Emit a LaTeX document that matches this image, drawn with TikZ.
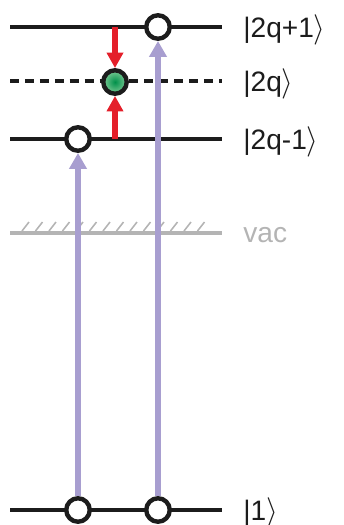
\documentclass[tikz,border=0pt]{standalone}
\usepackage{fontspec}
\setmainfont{Liberation Sans}
\usetikzlibrary{arrows.meta,positioning,calc}
\definecolor{ink}{HTML}{1C1C1C}
\definecolor{pump}{HTML}{A89ED0}
\definecolor{push}{HTML}{E41F2A}
\definecolor{vacgray}{HTML}{B4B4B4}
\definecolor{ballin}{HTML}{00904A}
\definecolor{ballout}{HTML}{7CCB95}
\newcommand{\LineL}{10}
\newcommand{\LineR}{222}
\newcommand{\LabelX}{243}
\newcommand{\ColA}{78}
\newcommand{\ColB}{158}
\newcommand{\ColC}{115}

\begin{document}
\begin{tikzpicture}[
    x=0.02cm, y=-0.02cm,
    font=\fontsize{16}{19}\selectfont, ink,
    level/.style={draw=ink, line width=2.5pt},
    midlevel/.style={level, dash pattern=on 5.1pt off 3.4pt},
    vaclevel/.style={draw=vacgray, line width=2.3pt},
    dot/.style={circle, draw=ink, line width=2.5pt, fill=white, minimum size=0.47cm, inner sep=0pt},
    ball/.style={dot, shading=radial, inner color=ballin, outer color=ballout},
    pumparrow/.style={-{Triangle[length=0.32cm, width=0.34cm]}, draw=pump, line width=3.4pt},
    pusharrow/.style={-{Triangle[length=0.31cm, width=0.32cm]}, draw=push, line width=3.2pt},
    state/.style={anchor=base west, inner sep=0pt},
  ]
\useasboundingbox (0,0) rectangle (343,525);

% The levels, top to bottom, with their kets on the right.
\foreach \name/\y/\st/\ket in {
    top/27/level/{|2q+1$\rangle$},
    mid/81/midlevel/{|2q$\rangle$},
    low/139/level/{|2q-1$\rangle$},
    gnd/510/level/{|1$\rangle$}} {
  \coordinate (\name W) at (\LineL, \y);
  \coordinate (\name E) at (\LineR, \y);
  \draw[\st] (\name W) -- (\name E);
  \node[state] (ket\name) at (\LabelX, \y + 10) {\ket};
}

% Vacuum level, hatched above.
\coordinate (vacW) at (\LineL, 233);
\coordinate (vacE) at (\LineR, 233);
\foreach \x in {22, 35.5, ..., 210}
  \draw[vacgray, line width=0.9pt] (\x, 231) -- ++(7, -9);
\draw[vaclevel] (vacW) -- (vacE);
\node[state, text=vacgray] (ketvac) at (\LabelX, 242) {vac};

% Holes and the trapped particle.
\node[dot] (gndA) at (\ColA, 510) {};
\node[dot] (gndB) at (\ColB, 510) {};
\node[dot] (lowA) at (\ColA, 139) {};
\node[dot] (topB) at (\ColB, 27) {};
\node[ball] (mid) at (\ColC, 82) {};

% Pump arrows from the ground level.
\draw[pumparrow] (gndA) -- (lowA);
\draw[pumparrow] (gndB) -- (topB);

% Push arrows onto |2q>.
\coordinate (topC) at (\ColC, 27);
\coordinate (lowC) at (\ColC, 139);
\draw[pusharrow] (topC) -- (mid);
\draw[pusharrow] (lowC) -- (mid);

\end{tikzpicture}
\end{document}
